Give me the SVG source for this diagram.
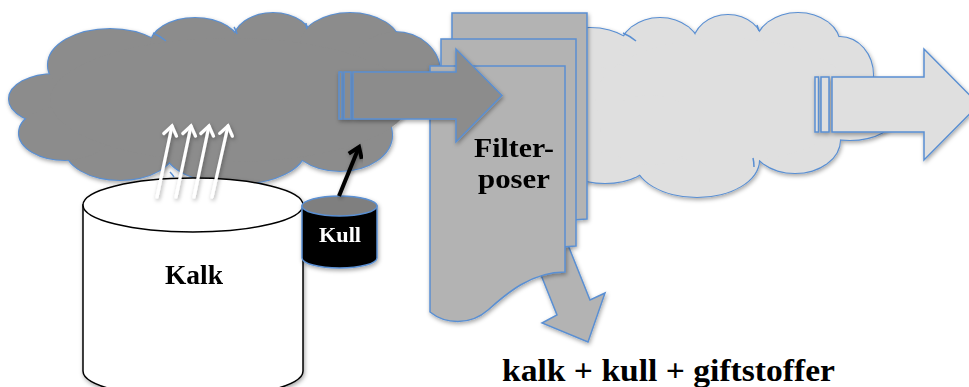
<svg xmlns="http://www.w3.org/2000/svg" width="969" height="387" viewBox="0 0 969 387">
  <defs>
    <filter id="shadow" x="-10%" y="-10%" width="130%" height="130%">
      <feDropShadow dx="1" dy="2" stdDeviation="2" flood-color="#000" flood-opacity="0.35"/>
    </filter>
    <marker id="openWhite" markerUnits="userSpaceOnUse" markerWidth="22" markerHeight="22" viewBox="-13 -11 16 22" refX="0" refY="0" orient="auto">
      <path d="M-9,-6.5 L0,0 L-9,6.5" fill="none" stroke="#fff" stroke-width="3.2" stroke-linecap="round" stroke-linejoin="miter"/>
    </marker>
    <marker id="openBlack" markerUnits="userSpaceOnUse" markerWidth="24" markerHeight="24" viewBox="-14 -12 18 24" refX="0" refY="0" orient="auto">
      <path d="M-10,-7 L0,0 L-10,7" fill="none" stroke="#000" stroke-width="4" stroke-linejoin="miter"/>
    </marker>
  </defs>
  <style>
    .edge { stroke: #5a8fd2; stroke-width: 2.2; }
    .edgeThin { stroke: #5a8fd2; stroke-width: 1.5; fill: none; }
    .darkFill { fill: #8c8c8c; stroke: none; }
    .lightFill { fill: #dfdfdf; stroke: none; }
    .bag { fill: #b3b3b3; stroke: #5a8fd2; stroke-width: 1.5; }
    .label { font-family: "Liberation Serif", "DejaVu Serif", serif; font-weight: bold; fill: #000; }
  </style>

  <!-- smoke cloud above the lime silo -->
  <g id="smoke-cloud" filter="url(#shadow)">
    <g class="edge" fill="#8c8c8c">
      <ellipse cx="55" cy="99" rx="46" ry="25"/>
      <ellipse cx="110" cy="65" rx="62" ry="36"/>
      <ellipse cx="195" cy="46" rx="45" ry="28"/>
      <ellipse cx="273" cy="42" rx="40" ry="29"/>
      <ellipse cx="350" cy="45" rx="50" ry="32"/>
      <ellipse cx="395" cy="72" rx="45" ry="40"/>
      <ellipse cx="340" cy="135" rx="52" ry="36"/>
      <ellipse cx="235" cy="150" rx="70" ry="34"/>
      <ellipse cx="120" cy="148" rx="55" ry="32"/>
      <ellipse cx="65" cy="133" rx="46" ry="27"/>
    </g>
    <g class="darkFill">
      <ellipse cx="55" cy="99" rx="46" ry="25"/>
      <ellipse cx="110" cy="65" rx="62" ry="36"/>
      <ellipse cx="195" cy="46" rx="45" ry="28"/>
      <ellipse cx="273" cy="42" rx="40" ry="29"/>
      <ellipse cx="350" cy="45" rx="50" ry="32"/>
      <ellipse cx="395" cy="72" rx="45" ry="40"/>
      <ellipse cx="340" cy="135" rx="52" ry="36"/>
      <ellipse cx="235" cy="150" rx="70" ry="34"/>
      <ellipse cx="120" cy="148" rx="55" ry="32"/>
      <ellipse cx="65" cy="133" rx="46" ry="27"/>
      <ellipse cx="230" cy="100" rx="180" ry="62"/>
    </g>
    <path class="edgeThin" d="M153,33 Q160,36 166,41 M234,27 Q236,30 237,34 M306,23 Q306,26 307,29 M170,172 Q172,174 174,177"/>
  </g>

  <!-- lime silo -->
  <g id="kalk" filter="url(#shadow)">
    <path d="M83,205 V371 A110,27 0 0 0 303,371 V205 Z" fill="#fff" stroke="#000" stroke-width="1.5"/>
    <ellipse cx="193" cy="205" rx="110" ry="27" fill="#fff" stroke="#000" stroke-width="1.5"/>
    <text class="label" x="165" y="284" font-size="27" textLength="58" lengthAdjust="spacingAndGlyphs">Kalk</text>
  </g>

  <!-- coal container -->
  <g id="kull" filter="url(#shadow)">
    <path d="M302,206 V258 A37.5,10 0 0 0 377,258 V206 Z" fill="#000" stroke="#5a8fd2" stroke-width="1.5"/>
    <ellipse cx="339.5" cy="206" rx="37.5" ry="10" fill="#7f7f7f" stroke="#5a8fd2" stroke-width="1.5"/>
    <text class="label" x="319" y="242" font-size="20" style="fill:#fff" textLength="42" lengthAdjust="spacingAndGlyphs">Kull</text>
  </g>

  <!-- cleaned gas cloud -->
  <g id="clean-cloud" filter="url(#shadow)">
    <g class="edge" fill="#dfdfdf">
      <ellipse cx="590" cy="60" rx="50" ry="32"/>
      <ellipse cx="660" cy="50" rx="40" ry="32"/>
      <ellipse cx="728" cy="45" rx="35" ry="30"/>
      <ellipse cx="798" cy="45" rx="42" ry="32"/>
      <ellipse cx="840" cy="75" rx="33" ry="38"/>
      <ellipse cx="850" cy="115" rx="45" ry="25"/>
      <ellipse cx="795" cy="140" rx="45" ry="33"/>
      <ellipse cx="697" cy="160" rx="62" ry="37"/>
      <ellipse cx="605" cy="160" rx="45" ry="23"/>
      <ellipse cx="590" cy="110" rx="40" ry="45"/>
    </g>
    <g class="lightFill">
      <ellipse cx="590" cy="60" rx="50" ry="32"/>
      <ellipse cx="660" cy="50" rx="40" ry="32"/>
      <ellipse cx="728" cy="45" rx="35" ry="30"/>
      <ellipse cx="798" cy="45" rx="42" ry="32"/>
      <ellipse cx="840" cy="75" rx="33" ry="38"/>
      <ellipse cx="850" cy="115" rx="45" ry="25"/>
      <ellipse cx="795" cy="140" rx="45" ry="33"/>
      <ellipse cx="697" cy="160" rx="62" ry="37"/>
      <ellipse cx="605" cy="160" rx="45" ry="23"/>
      <ellipse cx="590" cy="110" rx="40" ry="45"/>
      <ellipse cx="725" cy="100" rx="130" ry="62"/>
      <ellipse cx="650" cy="130" rx="50" ry="35"/>
    </g>
    <path class="edgeThin" d="M623,33 Q630,36 636,41 M757,25 Q758,28 759,31 M753,158 Q754,162 754,167"/>
  </g>

  <!-- residue leaving the filter -->
  <g id="residue-arrow" filter="url(#shadow)">
    <polygon points="533,255 566,240 590,300 605,293 588,342 542,323 557,315" fill="#b3b3b3" stroke="#5a8fd2" stroke-width="1.5" stroke-linejoin="miter"/>
  </g>

  <!-- filter bags -->
  <g id="filterposer" filter="url(#shadow)">
    <path class="bag" d="M452,13 H587 V219 C552,219 527,242 510,257 C492,273 467,271 452,259 Z"/>
    <path class="bag" d="M441,39 H576 V246 C541,246 516,269 499,284 C481,300 456,298 441,286 Z"/>
    <path class="bag" d="M430,66 H565 V272 C530,272 505,295 488,310 C470,326 445,324 430,312 Z"/>
    <text class="label" x="474" y="157" font-size="27" textLength="80" lengthAdjust="spacingAndGlyphs">Filter-</text>
    <text class="label" x="478" y="188" font-size="27" textLength="72" lengthAdjust="spacingAndGlyphs">poser</text>
  </g>

  <!-- flows -->
  <g id="connectors">
    <g filter="url(#shadow)">
      <!-- flue gas into the filter -->
      <g fill="#8c8c8c" stroke="#5a8fd2" stroke-width="1.5" stroke-linejoin="miter">
        <rect x="339" y="72" width="3" height="47"/>
        <rect x="344" y="72" width="7" height="47"/>
        <polygon points="353,72 456,72 456,49 502,95.5 456,142 456,119 353,119"/>
      </g>
      <!-- cleaned gas out -->
      <g fill="#dfdfdf" stroke="#5a8fd2" stroke-width="1.5" stroke-linejoin="miter">
        <rect x="815" y="77" width="3.5" height="55"/>
        <rect x="821" y="77" width="8" height="55"/>
        <polygon points="832,77 924,77 924,49 979,104.5 924,160 924,132 832,132"/>
      </g>
    </g>
    <!-- lime dust rising -->
    <g filter="url(#shadow)" stroke="#fff" stroke-width="3.2" fill="none" stroke-linecap="round">
      <line x1="157" y1="197" x2="172" y2="126" marker-end="url(#openWhite)"/>
      <line x1="176" y1="197" x2="191" y2="126" marker-end="url(#openWhite)"/>
      <line x1="194" y1="197" x2="209" y2="126" marker-end="url(#openWhite)"/>
      <line x1="212" y1="197" x2="228" y2="126" marker-end="url(#openWhite)"/>
    </g>
    <!-- coal injected -->
    <line x1="339" y1="196" x2="359" y2="147" stroke="#000" stroke-width="4" marker-end="url(#openBlack)" filter="url(#shadow)"/>
  </g>

  <text class="label" x="502" y="381" font-size="32" textLength="333" lengthAdjust="spacingAndGlyphs">kalk + kull + giftstoffer</text>
</svg>
